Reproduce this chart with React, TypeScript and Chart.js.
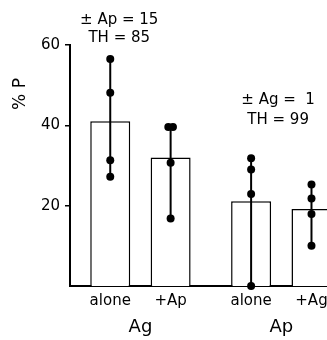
import React, { useEffect, useRef } from "react";
import { Chart, registerables } from "chart.js";

Chart.register(...registerables);

// ---- data ----
const categories = ["alone", "+Ap", "alone", "+Ag"];
const groupLabels = ["Ag", "Ap"];
const barMeans = [41.0, 32.0, 21.1, 19.2];
const dotsAgAlone = [56.5, 48.1, 31.3, 27.2];
const dotsAgPlusAp = [39.6, 39.6, 30.7, 16.8];
const dotsApAlone = [31.8, 29.0, 22.9, 0];
const dotsApPlusAg = [25.3, 21.8, 17.9, 10.0];
const yTicks = [20, 40, 60];
const yTitle = "% P";
const annotationAg = ["\u00B1 Ap = 15", "TH = 85"];
const annotationAp = ["\u00B1 Ag =  1", "TH = 99"];

// ---- layout ----
const slots = [2, 5, 9, 12];
const X_MAX = 16.2;
const DUP_SPREAD = 0.23;
const FONT = "'DejaVu Sans', sans-serif";
const CANVAS_W = 400;
const CANVAS_H = 340;

const dotSets = [dotsAgAlone, dotsAgPlusAp, dotsApAlone, dotsApPlusAg];

function buildDots() {
  const pts: { x: number; y: number }[] = [];
  dotSets.forEach((vals, i) => {
    const seen: Record<string, number> = {};
    vals.forEach((v) => {
      const n = vals.filter((w) => w === v).length;
      const k = seen[v] ?? 0;
      seen[v] = k + 1;
      const off = n > 1 ? (k - (n - 1) / 2) * DUP_SPREAD : 0;
      pts.push({ x: slots[i] + off, y: v });
    });
  });
  return pts;
}

const textPlugin = {
  id: "textLabels",
  afterDraw(chart: any) {
    const { ctx, chartArea, scales } = chart;
    const xs = scales.x;
    ctx.save();
    ctx.fillStyle = "#000";
    ctx.textAlign = "center";
    ctx.textBaseline = "alphabetic";

    // annotations
    ctx.font = `15px ${FONT}`;
    const a1x = xs.getPixelForValue(slots[0]) + 9;
    ctx.fillText(annotationAg[0], a1x, chartArea.top - 21.5);
    ctx.fillText(annotationAg[1], a1x, chartArea.top - 3.5);
    const a2x = xs.getPixelForValue(slots[2]) + 27;
    ctx.fillText(annotationAp[0], a2x, chartArea.top + 58.5);
    ctx.fillText(annotationAp[1], a2x, chartArea.top + 79);

    // group labels
    ctx.font = `18px ${FONT}`;
    groupLabels.forEach((g, gi) => {
      const gx = xs.getPixelForValue((slots[gi * 2] + slots[gi * 2 + 1]) / 2);
      ctx.fillText(g, gx, chartArea.bottom + 46);
    });

    // y title
    ctx.font = `17px ${FONT}`;
    ctx.translate(chartArea.left - 49, chartArea.top + 49);
    ctx.rotate(-Math.PI / 2);
    ctx.textBaseline = "middle";
    ctx.fillText(yTitle, 0, 0);
    ctx.restore();
  },
};

export default function App() {
  const ref = useRef<HTMLCanvasElement>(null);

  useEffect(() => {
    if (!ref.current) return;
    const chart = new Chart(ref.current, {
      type: "bar",
      data: {
        datasets: [
          {
            type: "scatter",
            label: "points",
            data: buildDots(),
            pointRadius: 4,
            pointHoverRadius: 4,
            backgroundColor: "#000",
            borderColor: "#000",
            borderWidth: 0,
            clip: false,
            order: 0,
          } as any,
          {
            type: "bar",
            label: "range",
            data: slots.map((x, i) => ({
              x,
              y: [Math.min(...dotSets[i]), Math.max(...dotSets[i])],
            })),
            backgroundColor: "#000",
            borderWidth: 0,
            grouped: false,
            maxBarThickness: 2,
            order: 1,
          } as any,
          {
            type: "bar",
            label: "mean",
            data: slots.map((x, i) => ({ x, y: barMeans[i] })),
            backgroundColor: "#fff",
            borderColor: "#000",
            borderWidth: 1.5,
            grouped: false,
            maxBarThickness: 40,
            order: 2,
          } as any,
        ],
      },
      options: {
        responsive: false,
        animation: false,
        devicePixelRatio: 1,
        layout: { padding: { top: 45, left: 0, right: 0, bottom: 0 } },
        plugins: {
          legend: { display: false },
          tooltip: { enabled: false },
          title: { display: false },
        },
        scales: {
          x: {
            type: "linear",
            min: 0,
            max: X_MAX,
            offset: false,
            afterBuildTicks: (ax: any) => {
              ax.ticks = slots.map((v) => ({ value: v }));
            },
            afterFit: (ax: any) => {
              ax.height = CANVAS_H - 286;
            },
            grid: { display: false, drawTicks: false },
            border: { display: true, color: "#000", width: 2 },
            ticks: {
              autoSkip: false,
              maxRotation: 0,
              padding: 6,
              color: "#000",
              font: { family: FONT, size: 15 },
              callback: (_v: any, i: number) => categories[i] ?? "",
            },
          },
          y: {
            type: "linear",
            min: 0,
            max: 60,
            afterBuildTicks: (ax: any) => {
              ax.ticks = yTicks.map((v) => ({ value: v }));
            },
            afterFit: (ax: any) => {
              ax.width = 70;
            },
            grid: {
              drawOnChartArea: false,
              drawTicks: true,
              tickLength: 5,
              color: "#000",
              lineWidth: 1.5,
            },
            border: { display: true, color: "#000", width: 2 },
            ticks: {
              padding: 5,
              color: "#000",
              font: { family: FONT, size: 15 },
            },
          },
        },
      } as any,
      plugins: [textPlugin],
    });
    return () => chart.destroy();
  }, []);

  return (
    <div
      style={{
        position: "fixed",
        left: 0,
        top: 0,
        width: 327,
        height: 340,
        overflow: "hidden",
        background: "#fff",
      }}
    >
      <canvas
        ref={ref}
        width={CANVAS_W}
        height={CANVAS_H}
        style={{ width: CANVAS_W, height: CANVAS_H, display: "block" }}
      />
    </div>
  );
}
